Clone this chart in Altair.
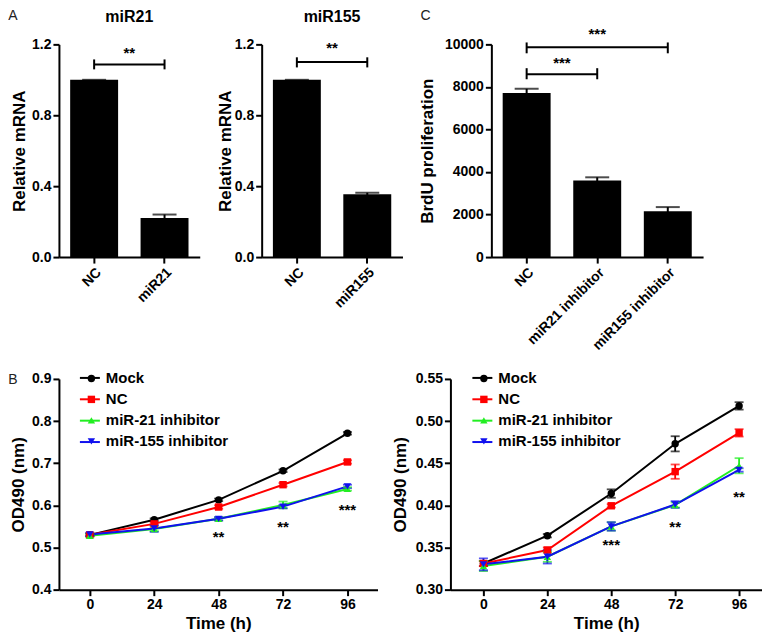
import altair as alt
import pandas as pd

FONT = "Liberation Sans"

# ---------------- Panel A ----------------
a1_cats = ["NC", "miR21"]
a1_vals = [1.0, 0.22]
a1_errs = [0.0, 0.02]
a2_cats = ["NC", "miR155"]
a2_vals = [1.0, 0.355]
a2_errs = [0.0, 0.008]
a_ticks = [0.0, 0.4, 0.8, 1.2]

# ---------------- Panel C ----------------
c_cats = ["NC", "miR21 inhibitor", "miR155 inhibitor"]
c_vals = [7710, 3600, 2160]
c_errs = [200, 150, 190]
c_ticks = [0, 2000, 4000, 6000, 8000, 10000]

# significance brackets: left cat, right cat, bracket y, cap low, cap high, star y, star cat, star band pos, stars
a1_sig = [("NC", "miR21", 1.087, 1.059, 1.115, 1.149, "NC", 1.0, "**")]
a2_sig = [("NC", "miR155", 1.10, 1.070, 1.127, 1.177, "NC", 1.0, "**")]
c_sig = [
    ("NC", "miR21 inhibitor", 8600, 8360, 8880, 9110, "NC", 1.0, "***"),
    ("NC", "miR155 inhibitor", 9860, 9580, 10090, 10470, "miR21 inhibitor", 0.5, "***"),
]

# ---------------- Panel B ----------------
times = [0, 24, 48, 72, 96]
groups = ["Mock", "NC", "miR-21 inhibitor", "miR-155 inhibitor"]
colors = ["#000000", "#ff0000", "#22ee22", "#1010ee"]
shapes = ["circle", "square", "triangle-up", "triangle-down"]

bl_mock = [0.530, 0.566, 0.613, 0.682, 0.771]
bl_nc = [0.530, 0.556, 0.596, 0.649, 0.703]
bl_m21 = [0.528, 0.544, 0.568, 0.601, 0.639]
bl_m155 = [0.531, 0.545, 0.568, 0.597, 0.645]
bl_mock_err = [0.003, 0.003, 0.003, 0.003, 0.003]
bl_nc_err = [0.003, 0.003, 0.004, 0.004, 0.004]
bl_m21_err = [0.004, 0.005, 0.004, 0.008, 0.004]
bl_m155_err = [0.004, 0.008, 0.004, 0.004, 0.004]
bl_ticks = [0.4, 0.5, 0.6, 0.7, 0.8, 0.9]
bl_stars_t = [48, 72, 96]
bl_stars_y = [0.525, 0.549, 0.590]
bl_stars = ["**", "**", "***"]

br_mock = [0.331, 0.364, 0.414, 0.473, 0.518]
br_nc = [0.331, 0.347, 0.3995, 0.440, 0.486]
br_m21 = [0.328, 0.339, 0.375, 0.4005, 0.447]
br_m155 = [0.330, 0.339, 0.375, 0.401, 0.442]
br_mock_err = [0.003, 0.002, 0.005, 0.009, 0.0044]
br_nc_err = [0.003, 0.003, 0.002, 0.0085, 0.0044]
br_m21_err = [0.006, 0.006, 0.005, 0.003, 0.009]
br_m155_err = [0.007, 0.008, 0.005, 0.004, 0.002]
br_ticks = [0.30, 0.35, 0.40, 0.45, 0.50, 0.55]
br_stars_t = [48, 72, 96]
br_stars_y = [0.3525, 0.374, 0.410]
br_stars = ["***", "**", "**"]


def text_layer(txt, dx, dy, size=14, weight="normal", color="#222222"):
    return alt.Chart(pd.DataFrame({"t": [txt]})).mark_text(
        font=FONT, fontSize=size, fontWeight=weight, color=color,
        align="center", baseline="middle"
    ).encode(text="t:N", x=alt.value(dx), y=alt.value(dy))


def bar_panel(cats, vals, errs, ymax, yticks, ytitle, width, sig, title_text=None,
              letter=None, title_pad=6):
    df = pd.DataFrame({
        "cat": cats, "val": vals,
        "lo": [v - e for v, e in zip(vals, errs)],
        "hi": [v + e for v, e in zip(vals, errs)],
    })
    xscale = alt.Scale(domain=cats, paddingInner=0, paddingOuter=0)
    x = alt.X("cat:N", sort=cats, scale=xscale,
              axis=alt.Axis(title=None, labelAngle=-45, labelPadding=2))
    yscale = alt.Scale(domain=[0, ymax], nice=False, zero=True)
    y = alt.Y("val:Q", scale=yscale,
              axis=alt.Axis(values=yticks, format=".1f" if ymax < 5 else "d",
                            title=ytitle, titlePadding=title_pad))
    bars = alt.Chart(df).mark_bar(color="black", size=48).encode(x=x, y=y)
    err = alt.Chart(df).mark_rule(color="black", strokeWidth=2).encode(
        x=alt.X("cat:N", sort=cats), y="lo:Q", y2="hi:Q")
    cap = alt.Chart(df).mark_tick(color="black", orient="horizontal", size=24,
                                  thickness=2).encode(x=alt.X("cat:N", sort=cats), y="hi:Q")
    layers = [bars, err, cap]

    for lc, rc, by, clo, chi, sy, scat, sband, stars in sig:
        bdf = pd.DataFrame({"cat": [lc, rc], "y": [by, by], "lo": [clo, clo], "hi": [chi, chi]})
        layers.append(alt.Chart(bdf).mark_line(color="black", strokeWidth=2).encode(
            x=alt.X("cat:N", sort=cats), y="y:Q"))
        layers.append(alt.Chart(bdf).mark_rule(color="black", strokeWidth=2).encode(
            x=alt.X("cat:N", sort=cats), y="lo:Q", y2="hi:Q"))
        sdf = pd.DataFrame({"cat": [scat], "y": [sy], "s": [stars]})
        layers.append(alt.Chart(sdf).mark_text(
            font=FONT, fontSize=15, fontWeight="bold", color="black",
            baseline="middle", align="center").encode(
            x=alt.X("cat:N", sort=cats, bandPosition=sband), y="y:Q", text="s:N"))
    if letter is not None:
        layers.append(text_layer(*letter))
    if title_text:
        layers.append(text_layer(title_text, width / 2, -27, size=16, weight="bold",
                                 color="black"))
    return alt.layer(*layers).properties(width=width, height=213)


def line_panel(series, errs, ydom, yticks, yfmt, xdom, width, st_t, st_y, st_s,
               legend_x, letter=None, title_pad=6):
    rows = []
    for g, vals, es in zip(groups, series, errs):
        for t, v, e in zip(times, vals, es):
            rows.append({"time": t, "group": g, "val": v, "lo": v - e, "hi": v + e})
    df = pd.DataFrame(rows)
    x = alt.X("time:Q", scale=alt.Scale(domain=xdom, nice=False, zero=False),
              axis=alt.Axis(values=times, title="Time (h)", titlePadding=4))
    y = alt.Y("val:Q", scale=alt.Scale(domain=ydom, nice=False, zero=False),
              axis=alt.Axis(values=yticks, format=yfmt, title="OD490 (nm)",
                            titlePadding=title_pad))
    cs = alt.Scale(domain=groups, range=colors)
    ss = alt.Scale(domain=groups, range=shapes)
    line_leg = alt.Legend(orient="none", legendX=legend_x - 9, legendY=-12, title=None,
                          symbolType="stroke", symbolSize=400, symbolStrokeWidth=2,
                          labelColor="transparent", labelFont=FONT, labelFontSize=15,
                          labelFontWeight="bold", rowPadding=2.4, padding=0)
    pt_leg = alt.Legend(orient="none", legendX=legend_x - 4, legendY=-8, title=None,
                        symbolSize=55, symbolStrokeWidth=0, labelFont=FONT, labelFontSize=15,
                        labelFontWeight="bold", labelColor="black", labelOffset=7,
                        rowPadding=5, padding=0)
    base = alt.Chart(df)
    lines = base.mark_line(strokeWidth=2).encode(
        x=x, y=y, color=alt.Color("group:N", scale=cs, legend=line_leg))
    err = base.mark_rule(strokeWidth=1.8).encode(
        x="time:Q", y="lo:Q", y2="hi:Q", color=alt.Color("group:N", scale=cs, legend=None))
    cap_lo = base.mark_tick(orient="horizontal", size=9, thickness=1.8).encode(
        x="time:Q", y="lo:Q", color=alt.Color("group:N", scale=cs, legend=None))
    cap_hi = base.mark_tick(orient="horizontal", size=9, thickness=1.8).encode(
        x="time:Q", y="hi:Q", color=alt.Color("group:N", scale=cs, legend=None))
    pts = base.mark_point(filled=True, size=55, opacity=1).encode(
        x="time:Q", y="val:Q",
        color=alt.Color("group:N", scale=cs, legend=pt_leg),
        shape=alt.Shape("group:N", scale=ss, legend=pt_leg))
    sdf = pd.DataFrame({"time": st_t, "y": st_y, "s": st_s})
    stars = alt.Chart(sdf).mark_text(font=FONT, fontSize=15, fontWeight="bold",
                                     color="black", baseline="middle").encode(
        x="time:Q", y="y:Q", text="s:N")
    layers = [lines, err, cap_lo, cap_hi, pts, stars]
    if letter is not None:
        layers.append(text_layer(*letter))
    return alt.layer(*layers).resolve_scale(color="independent", shape="independent").properties(
        width=width, height=211)


a1 = bar_panel(a1_cats, a1_vals, a1_errs, 1.2, a_ticks, "Relative mRNA", 141, a1_sig,
               title_text="miR21", letter=("A", -46, -28), title_pad=3)
a2 = bar_panel(a2_cats, a2_vals, a2_errs, 1.2, a_ticks, "Relative mRNA", 141, a2_sig,
               title_text="miR155", title_pad=0)
cc = bar_panel(c_cats, c_vals, c_errs, 10000, c_ticks, "BrdU proliferation", 212, c_sig,
               letter=("C", -66, -28), title_pad=8)

bl = line_panel([bl_mock, bl_nc, bl_m21, bl_m155],
                [bl_mock_err, bl_nc_err, bl_m21_err, bl_m155_err],
                [0.4, 0.9], bl_ticks, ".1f", [-11.5, 107.2], 319,
                bl_stars_t, bl_stars_y, bl_stars, 29, letter=("B", -46, 1), title_pad=4)
br = line_panel([br_mock, br_nc, br_m21, br_m155],
                [br_mock_err, br_nc_err, br_m21_err, br_m155_err],
                [0.30, 0.55], br_ticks, ".2f", [-12.4, 104.6], 312,
                br_stars_t, br_stars_y, br_stars, 30, title_pad=6)

top = alt.hconcat(a1, a2, cc, spacing=16).resolve_scale(
    color="independent", shape="independent")
bottom = alt.hconcat(bl, br, spacing=73, bounds="flush").resolve_scale(
    color="independent", shape="independent")

chart = alt.vconcat(top, bottom, spacing=14).resolve_scale(
    color="independent", shape="independent"
).properties(padding={"left": 0, "top": 1, "right": 0, "bottom": 0}).configure_view(
    stroke=None
).configure_axis(
    grid=False, domainColor="black", domainWidth=2, tickColor="black", tickWidth=2,
    tickSize=6, labelFont=FONT, labelFontSize=14, labelFontWeight="bold",
    labelColor="black", titleFont=FONT, titleFontSize=17, titleFontWeight="bold",
    titleColor="black", labelPadding=2
)

chart.save("out.html", embed_options={"renderer": "svg", "actions": False})
